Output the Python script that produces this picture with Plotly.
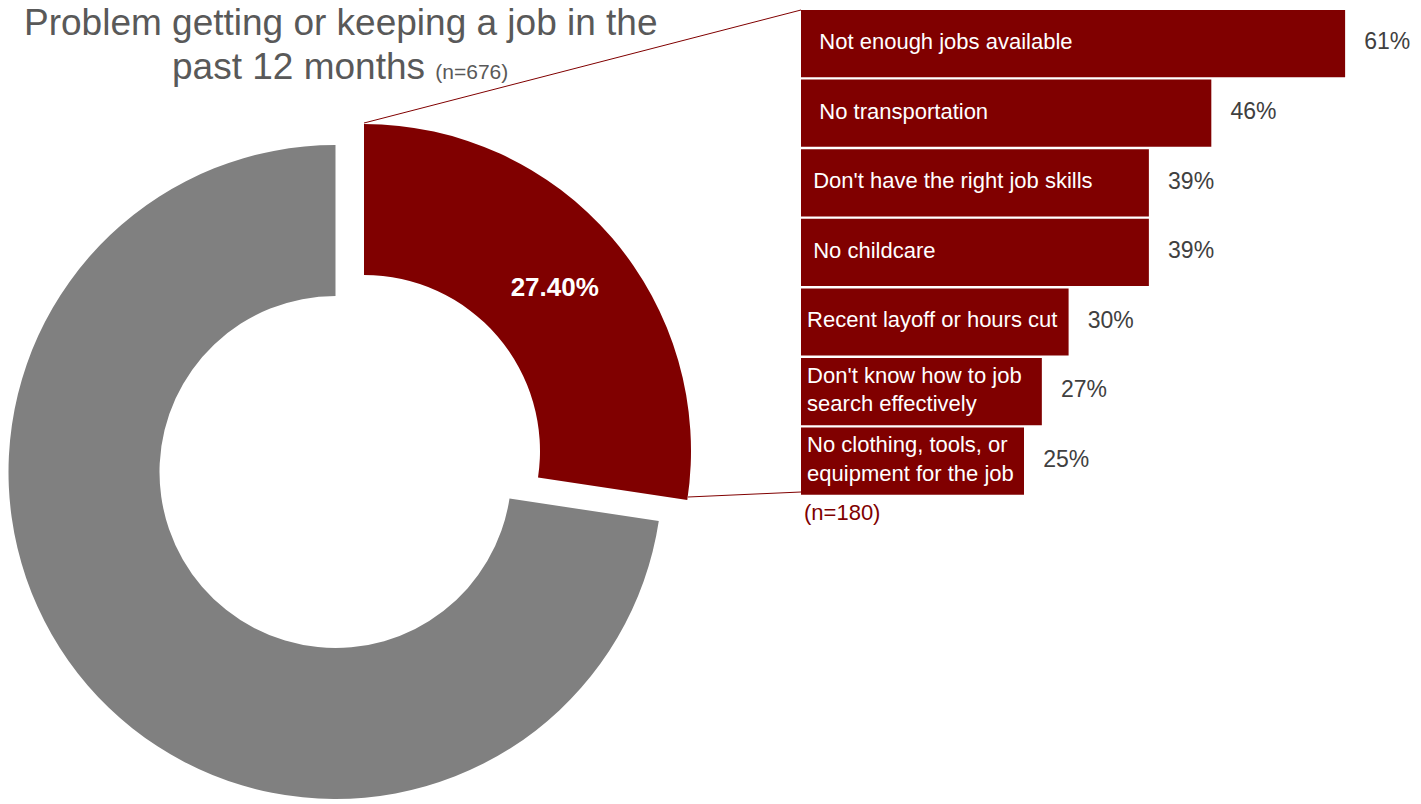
import plotly.graph_objects as go

# ---- data ----
pie_labels = ["Problem getting or keeping a job", "No problem"]
pie_values = [27.4, 72.6]
pie_text = ["27.40%", ""]

bar_categories = [
    "Not enough jobs available",
    "No transportation",
    "Don't have the right job skills",
    "No childcare",
    "Recent layoff or hours cut",
    "Don't know how to job<br>search effectively",
    "No clothing, tools, or<br>equipment for the job",
]
bar_values = [61, 46, 39, 39, 30, 27, 25]
bar_value_labels = ["61%", "46%", "39%", "39%", "30%", "27%", "25%"]

title_line1 = "Problem getting or keeping a job in the"
title_line2 = "past 12 months"
title_n = "(n=676)"
bar_n = "(n=180)"

# ---- styling / geometry helpers ----
W, H = 1413, 796          # page adds an 8px body margin
OFF = 8
RED = "#800000"
GRAY = "#808080"
TXT = "#595959"
ARIAL = "Liberation Sans, Arial, sans-serif"
label_indent = [3, 3, 2, 2, 1, 1, 1]   # non-breaking spaces before each bar label


def fx(sx):
    return min(1.0, max(0.0, (sx - OFF) / W))


def fy(sy):
    return min(1.0, max(0.0, 1 - (sy - OFF) / H))


R = 327
HOLE = 176 / 327

fig = go.Figure()

# grey part (not pulled)
fig.add_trace(go.Pie(
    labels=pie_labels, values=pie_values, sort=False, direction="clockwise", rotation=0,
    hole=HOLE, marker=dict(colors=["rgba(0,0,0,0)", GRAY], line=dict(width=0)),
    textinfo="none", hoverinfo="skip", showlegend=False,
    domain=dict(x=[fx(335.5 - R), fx(335.5 + R)], y=[fy(472 + R), fy(472 - R)]),
))
# red part (exploded)
fig.add_trace(go.Pie(
    labels=pie_labels, values=pie_values, sort=False, direction="clockwise", rotation=0,
    hole=HOLE, marker=dict(colors=[RED, "rgba(0,0,0,0)"], line=dict(width=0)),
    text=pie_text, textinfo="text", textposition="inside", insidetextorientation="horizontal",
    textfont=dict(family=ARIAL, size=26, color="white", weight="bold"),
    hoverinfo="skip", showlegend=False,
    domain=dict(x=[fx(364 - R), fx(364 + R)], y=[fy(451 + R), fy(451 - R)]),
))

label_text = []
for c, n in zip(bar_categories, label_indent):
    pad = "\u00a0" * n
    label_text.append(pad + c.replace("<br>", "<br>" + pad))
value_text = ["\u00a0\u00a0\u00a0" + v for v in bar_value_labels]

fig.add_trace(go.Bar(
    x=bar_values, y=bar_categories, orientation="h",
    marker=dict(color=RED, line=dict(width=0)),
    hoverinfo="skip", showlegend=False, xaxis="x", yaxis="y",
))
# category labels, left aligned inside the bars
fig.add_trace(go.Scatter(
    x=[0] * len(bar_categories), y=bar_categories, mode="text", text=label_text,
    textposition="middle right",
    textfont=dict(family=ARIAL, size=22, color="white"),
    hoverinfo="skip", showlegend=False, cliponaxis=False, xaxis="x", yaxis="y",
))
# value labels
fig.add_trace(go.Scatter(
    x=bar_values, y=bar_categories, mode="text", text=value_text,
    textposition="middle right",
    textfont=dict(family=ARIAL, size=23, color="#404040"),
    hoverinfo="skip", showlegend=False, cliponaxis=False, xaxis="x", yaxis="y",
))

fig.update_layout(
    width=W, height=H,
    margin=dict(l=0, r=0, t=0, b=0),
    paper_bgcolor="white", plot_bgcolor="white",
    bargap=0.035,
    xaxis=dict(domain=[fx(801), 1], range=[0, (W + OFF - 801) / 8.92], visible=False, fixedrange=True),
    yaxis=dict(domain=[fy(496), fy(8.8)], autorange="reversed", visible=False,
               type="category", fixedrange=True),
    annotations=[
        dict(text=title_line1, xref="paper", yref="paper", x=fx(341), y=fy(22.5),
             xanchor="center", yanchor="middle", showarrow=False,
             font=dict(family=ARIAL, size=37, color=TXT)),
        dict(text=title_line2 + " <span style='font-size:21px'>" + title_n + "</span>",
             xref="paper", yref="paper", x=fx(340), y=fy(66.5),
             xanchor="center", yanchor="middle", showarrow=False,
             font=dict(family=ARIAL, size=37, color=TXT)),
        dict(text=bar_n, xref="paper", yref="paper", x=fx(802), y=fy(512),
             xanchor="left", yanchor="middle", showarrow=False,
             font=dict(family=ARIAL, size=22, color=RED)),
    ],
    shapes=[
        dict(type="line", xref="paper", yref="paper", x0=fx(364), y0=fy(123),
             x1=fx(801), y1=fy(10), line=dict(color=RED, width=1)),
        dict(type="line", xref="paper", yref="paper", x0=fx(688), y0=fy(497),
             x1=fx(801), y1=fy(492), line=dict(color=RED, width=1)),
    ],
)

fig.write_html("out.html")
